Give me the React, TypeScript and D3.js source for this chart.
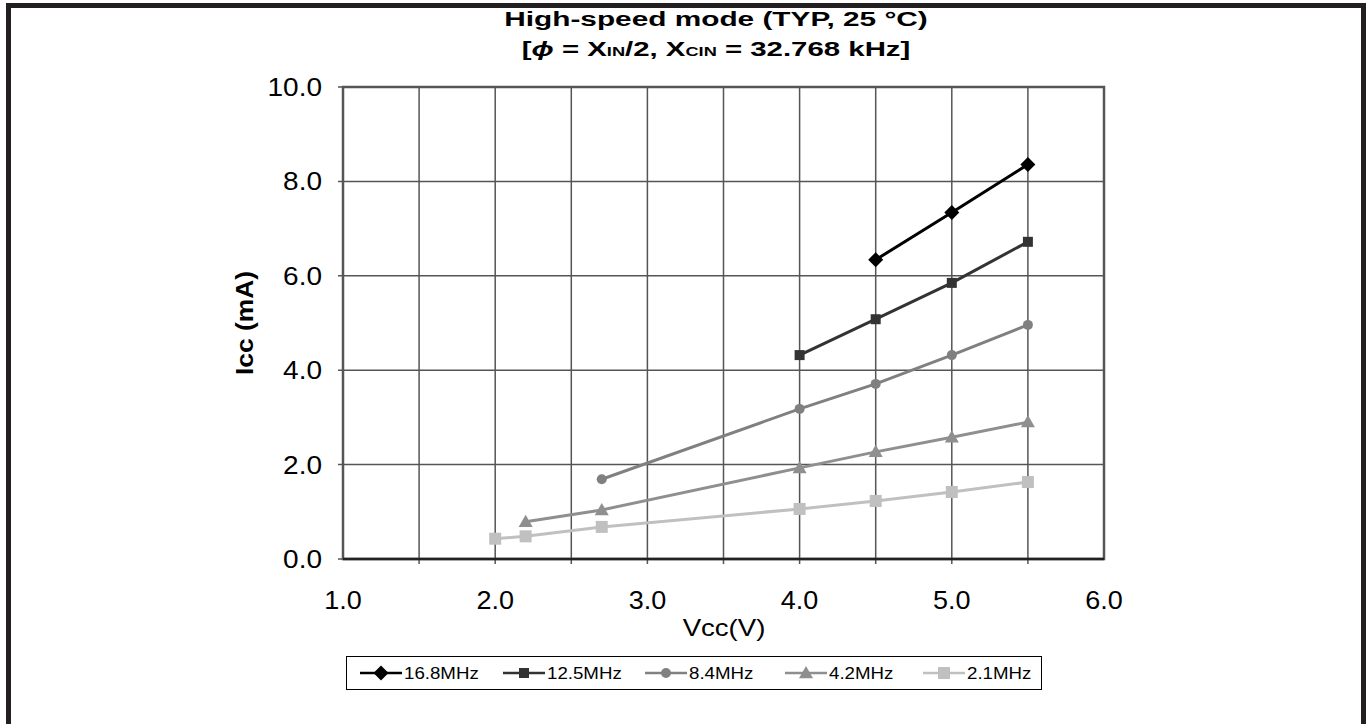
import * as d3 from "d3";

// Vcc (V) / Icc (mA) for each series
const vcc168 = [4.5, 5.0, 5.5];
const icc168 = [6.34, 7.34, 8.36];
const vcc125 = [4.0, 4.5, 5.0, 5.5];
const icc125 = [4.32, 5.08, 5.85, 6.72];
const vcc84 = [2.7, 4.0, 4.5, 5.0, 5.5];
const icc84 = [1.69, 3.18, 3.71, 4.32, 4.96];
const vcc42 = [2.2, 2.7, 4.0, 4.5, 5.0, 5.5];
const icc42 = [0.79, 1.04, 1.93, 2.27, 2.58, 2.9];
const vcc21 = [2.0, 2.2, 2.7, 4.0, 4.5, 5.0, 5.5];
const icc21 = [0.43, 0.48, 0.68, 1.06, 1.23, 1.42, 1.63];

const xTicks = [1.0, 2.0, 3.0, 4.0, 5.0, 6.0];
const xGrid = [1.5, 2.0, 2.5, 3.0, 3.5, 4.0, 4.5, 5.0, 5.5];
const yTicks = [0, 2, 4, 6, 8, 10];

const series = [
  { name: "16.8MHz", xs: vcc168, ys: icc168, color: "#000000", marker: "diamond" },
  { name: "12.5MHz", xs: vcc125, ys: icc125, color: "#333333", marker: "square" },
  { name: "8.4MHz", xs: vcc84, ys: icc84, color: "#808080", marker: "circle" },
  { name: "4.2MHz", xs: vcc42, ys: icc42, color: "#8f8f8f", marker: "triangle" },
  { name: "2.1MHz", xs: vcc21, ys: icc21, color: "#c0c0c0", marker: "bigsquare" },
];

const W = 1372;
const H = 724;
const plot = { left: 343, right: 1104, top: 87, bottom: 559 };
const FONT = "'Liberation Sans', Arial, sans-serif";

const x = d3.scaleLinear().domain([1, 6]).range([plot.left, plot.right]);
const y = d3.scaleLinear().domain([0, 10]).range([plot.bottom, plot.top]);

function Marker({ type, cx, cy, color }: { type: string; cx: number; cy: number; color: string }) {
  if (type === "diamond") {
    const s = 7.5;
    return <path d={`M${cx},${cy - s}L${cx + s},${cy}L${cx},${cy + s}L${cx - s},${cy}Z`} fill={color} />;
  }
  if (type === "square") return <rect x={cx - 5} y={cy - 5} width={10} height={10} fill={color} />;
  if (type === "bigsquare") return <rect x={cx - 6} y={cy - 6} width={12} height={12} fill={color} />;
  if (type === "circle") return <circle cx={cx} cy={cy} r={5} fill={color} />;
  const s = 7;
  return <path d={`M${cx},${cy - s}L${cx + s},${cy + s * 0.75}L${cx - s},${cy + s * 0.75}Z`} fill={color} />;
}

// text with a horizontal stretch, like the original
function T({ x, y, sx = 1, anchor = "middle", size, weight = "normal", rotate = 0, children }: any) {
  return (
    <g transform={`translate(${x},${y}) rotate(${rotate}) scale(${sx},1)`}>
      <text textAnchor={anchor} fontSize={size} fontWeight={weight} fontFamily={FONT} fill="#000">
        {children}
      </text>
    </g>
  );
}

export default function App() {
  const line = d3.line<[number, number]>().x((d) => x(d[0])).y((d) => y(d[1]));
  // legend: line start, text start
  const legendItems = [
    { lx: 360, tx: 404 },
    { lx: 503, tx: 547 },
    { lx: 645, tx: 689 },
    { lx: 785, tx: 829 },
    { lx: 923, tx: 967 },
  ];
  return (
    <div style={{ position: "absolute", left: 0, top: 0 }}>
      <svg width={W} height={H} style={{ display: "block", background: "#fff" }}>
        <rect x={8.5} y={5.5} width={1355} height={760} fill="#fff" stroke="#231f20" strokeWidth={5} />

        {/* title */}
        <T x={716} y={26} size={21} weight="bold" sx={1.42}>High-speed mode (TYP, 25 °C)</T>
        <T x={716} y={56} size={21} weight="bold" sx={1.4}>
          [<tspan fontStyle="italic">ϕ</tspan> = X<tspan fontSize={13}>IN</tspan>/2, X<tspan fontSize={13}>CIN</tspan> = 32.768 kHz]
        </T>

        {/* grid */}
        {xGrid.map((v) => (
          <line key={"gx" + v} x1={x(v)} x2={x(v)} y1={plot.top} y2={plot.bottom + 5} stroke="#555" strokeWidth={1.5} />
        ))}
        {yTicks.map((v) => (
          <line key={"gy" + v} x1={plot.left - 5} x2={plot.right} y1={y(v)} y2={y(v)} stroke="#555" strokeWidth={1.5} />
        ))}
        <rect x={plot.left} y={plot.top} width={plot.right - plot.left} height={plot.bottom - plot.top} fill="none" stroke="#555" strokeWidth={2.5} />
        <line x1={plot.left} x2={plot.right} y1={plot.bottom} y2={plot.bottom} stroke="#222" strokeWidth={2.5} />

        {/* tick labels */}
        {yTicks.map((v) => (
          <T key={"yt" + v} x={322} y={y(v) + 9} size={25} anchor="end" sx={1.12}>{v.toFixed(1)}</T>
        ))}
        {xTicks.map((v) => (
          <T key={"xt" + v} x={x(v)} y={609} size={25} sx={1.08}>{v.toFixed(1)}</T>
        ))}

        <T x={253} y={323} size={24} weight="bold" rotate={-90} sx={1.1}>Icc (mA)</T>
        <T x={724} y={636} size={23} sx={1.2}>Vcc(V)</T>

        {/* series */}
        {series.map((s) => {
          const pts = s.xs.map((v, i) => [v, s.ys[i]] as [number, number]);
          return (
            <g key={s.name}>
              <path d={line(pts) ?? ""} fill="none" stroke={s.color} strokeWidth={3} />
              {pts.map((p, i) => (
                <Marker key={i} type={s.marker} cx={x(p[0])} cy={y(p[1])} color={s.color} />
              ))}
            </g>
          );
        })}

        {/* legend */}
        <rect x={346.5} y={656.5} width={695} height={33} fill="#fff" stroke="#000" strokeWidth={1} />
        {series.map((s, i) => {
          const it = legendItems[i];
          return (
            <g key={"lg" + s.name}>
              <line x1={it.lx} x2={it.lx + 42} y1={673} y2={673} stroke={s.color} strokeWidth={2.5} />
              <Marker type={s.marker} cx={it.lx + 21} cy={673} color={s.color} />
              <T x={it.tx} y={679} size={17} anchor="start" sx={1.1}>{s.name}</T>
            </g>
          );
        })}
      </svg>
    </div>
  );
}
